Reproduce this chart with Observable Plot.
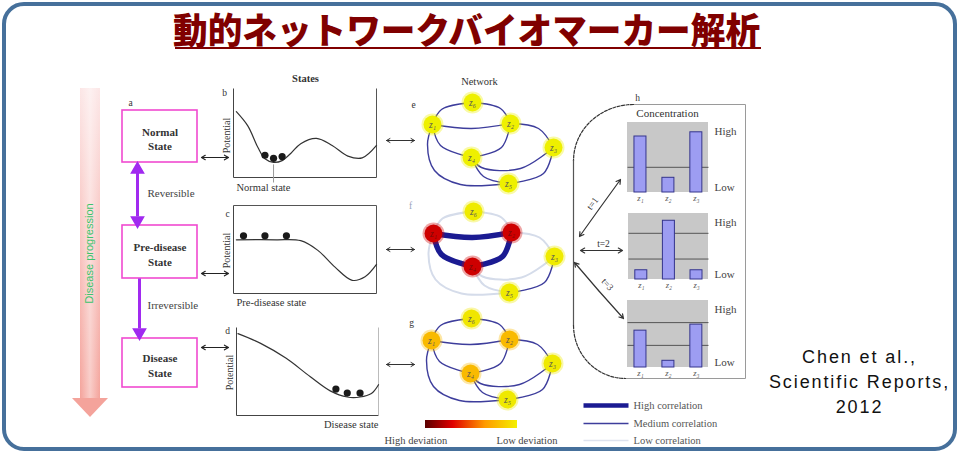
<!DOCTYPE html>
<html><head><meta charset="utf-8">
<script src="https://cdn.jsdelivr.net/npm/d3@7"></script>
<script src="https://cdn.jsdelivr.net/npm/@observablehq/plot@0.6"></script>
<style>
html,body{margin:0;padding:0;background:#fff;}
#wrap{position:relative;width:961px;height:452px;overflow:hidden;background:#fff;}
#box{position:absolute;left:2px;top:2px;width:947px;height:441px;border:4px solid #46709b;border-radius:22px;pointer-events:none;}
#title{position:absolute;left:173px;top:10px;font-family:"Noto Sans CJK JP";font-weight:900;font-size:36px;line-height:36px;color:#800000;white-space:nowrap;transform:scaleX(0.962);transform-origin:0 0;}
#uline{position:absolute;left:175px;top:47px;width:586px;height:2px;background:#800000;}
#chart{position:absolute;left:0;top:66px;}
</style></head>
<body><div id="wrap"><div id="title"></div><div id="uline"></div><div id="chart"></div><div id="box"></div></div>
<script>
// ================= DATA =================
const title = "動的ネットワークバイオマーカー解析";
const citation = ["Chen et al.,", "Scientific Reports,", "2012"];
const progressionLabel = "Disease progression";
const stateBoxLabels = ["Normal\nState", "Pre-disease\nState", "Disease\nState"];
const transitionLabels = ["Reversible", "Irreversible"];
const landscapeLabels = ["Normal state", "Pre-disease state", "Disease state"];
const columnTitles = ["States", "Network", "Concentration"];
const panelLetters = ["a", "b", "c", "d", "e", "f", "g", "h"];
const potentialLabel = "Potential";

// potential landscapes: [state coordinate 0..1, potential 0..1]
const potentialNormal = [[0.02,0.74],[0.10,0.58],[0.17,0.34],[0.22,0.21],[0.28,0.17],[0.34,0.19],[0.40,0.27],[0.47,0.38],[0.58,0.44],[0.69,0.36],[0.80,0.24],[0.90,0.22],[1.00,0.36]];
const potentialPre = [[0.02,0.61],[0.30,0.61],[0.47,0.60],[0.59,0.49],[0.71,0.30],[0.83,0.15],[0.92,0.19],[1.00,0.33]];
const potentialDisease = [[0.01,0.93],[0.17,0.82],[0.35,0.65],[0.52,0.44],[0.66,0.28],[0.78,0.21],[0.87,0.21],[0.95,0.25],[1.00,0.35]];
const ballsNormal = [[0.22,0.25],[0.28,0.215],[0.34,0.235]];
const ballsPre = [[0.07,0.655],[0.22,0.655],[0.37,0.655]];
const ballsDisease = [[0.70,0.30],[0.78,0.255],[0.87,0.255]];

// network
const nodeIds = ["z6", "z1", "z2", "z3", "z4", "z5"];
const nodeLabels = ["z\u2086", "z\u2081", "z\u2082", "z\u2083", "z\u2084", "z\u2085"];
const edgeList = [["z1","z6"],["z6","z2"],["z1","z2"],["z1","z4"],["z4","z2"],["z2","z3"],["z3","z5"],["z4","z3"],["z4","z5"],["z1","z5"]];
// deviation per node (0 low .. 1 high), same order as nodeIds
const deviationNormal = [0, 0, 0, 0, 0, 0];
const deviationPre = [0.02, 0.74, 0.74, 0.02, 0.74, 0.02];
const deviationDisease = [0.04, 0.22, 0.22, 0.03, 0.22, 0.03];
// correlation level per edge (0 low, 1 medium, 2 high), same order as edgeList
const correlationNormal = [1,1,1,1,1,1,1,1,1,1];
const correlationPre = [0,0,2,2,2,0,1,0,0,0];
const correlationDisease = [1,1,1,1,1,1,1,1,1,1];
const correlationLabels = ["Low correlation", "Medium correlation", "High correlation"];
const deviationLabels = ["High deviation", "Low deviation"];

// concentration panel
const timeLabels = ["t=1", "t=2", "t=3"];
const barLabels = ["z\u2081", "z\u2082", "z\u2083"];
const concT1 = [0.80, 0.21, 0.86];
const concT2 = [0.14, 0.89, 0.14];
const concT3 = [0.55, 0.10, 0.64];
const gridT1 = [0.36];
const gridT2 = [0.70, 0.31];
const gridT3 = [0.67, 0.33];
const levelLabels = ["High", "Low"];

// ================= LAYOUT =================
const L = {
  arrow: {x0: 80, x1: 100, y0: 88, y1: 398, hx0: 72, hx1: 108, tip: 417, tx: 89, ty: 253},
  boxes: [{x0:122,x1:197,y0:110,y1:162},{x0:122,x1:197,y0:225,y1:278},{x0:122,x1:197,y0:338,y1:387}],
  pot: [{x0:233,x1:376,y0:88,y1:177,top:false,right:true},{x0:233,x1:376,y0:205,y1:293,top:true,right:true},{x0:236,x1:378,y0:327,y1:415,top:false,right:false}],
  net: [{ox:432,oy:124},{ox:433,oy:233},{ox:431,oy:340}],
  nodeRel: {z6:[40,-22], z1:[0,0], z2:[78,-1], z3:[121,23], z4:[39,33], z5:[76,59]},
  edgeVia: [[[9,-15]],[[68,-16]],[[39,4]],[[8,21]],[[69,23]],[[106,4]],[[111,49]],[[49,43],[88,44]],[[51,52]],[[-5,20],[2,46],[28,60]]],
  bars: [{x0:627,x1:708,y0:122,y1:192},{x0:628,x1:708,y0:213,y1:279},{x0:627,x1:708,y0:300,y1:367}],
  barPos: [0.16, 0.505, 0.85], barW: 12,
};

const W = 961, H = 386, Y0 = 66;
const devColor = d3.scaleLinear().domain([0, 0.35, 0.7, 1]).range(["#eef000", "#ff9a00", "#e00000", "#5a0000"]).clamp(true);

// ---------- derived geometry ----------
const potCurves = [potentialNormal, potentialPre, potentialDisease];
const potBalls = [ballsNormal, ballsPre, ballsDisease];
const mapPot = (p, [u, v]) => ({x: p.x0 + u * (p.x1 - p.x0), y: p.y1 - v * (p.y1 - p.y0)});
const curvePts = potCurves.flatMap((c, i) => c.map(d => ({...mapPot(L.pot[i], d), k: i})));
const ballPts = potBalls.flatMap((c, i) => c.map(d => mapPot(L.pot[i], d)));
const frameSegs = [];
L.pot.forEach(p => {
  frameSegs.push({x1:p.x0,y1:p.y0,x2:p.x0,y2:p.y1,c:"#444"});
  frameSegs.push({x1:p.x0,y1:p.y1,x2:p.x1,y2:p.y1,c:"#444"});
  frameSegs.push({x1:p.x1,y1:p.y0,x2:p.x1,y2:p.y1,c:p.right ? "#555" : "#bbb"});
  if (p.top) frameSegs.push({x1:p.x0,y1:p.y0,x2:p.x1,y2:p.y0,c:"#555"});
});
const minNormal = mapPot(L.pot[0], potentialNormal[4]);

const deviations = [deviationNormal, deviationPre, deviationDisease];
const correlations = [correlationNormal, correlationPre, correlationDisease];
const edgePts = [];
correlations.forEach((corr, s) => {
  const n = L.net[s];
  edgeList.forEach(([a, b], k) => {
    const pts = [L.nodeRel[a], ...L.edgeVia[k], L.nodeRel[b]];
    pts.forEach(([dx, dy]) => edgePts.push({key: s + "-" + k, level: corr[k], x: n.ox + dx, y: n.oy + dy}));
  });
});
const nodePts = [];
deviations.forEach((dev, s) => {
  const n = L.net[s];
  nodeIds.forEach((id, i) => {
    const [dx, dy] = L.nodeRel[id];
    nodePts.push({x: n.ox + dx, y: n.oy + dy, dev: dev[i], fill: devColor(dev[i]), label: nodeLabels[i]});
  });
});

const barRects = [], bgRects = [], gridSegs = [], barText = [], levelText = [];
[concT1, concT2, concT3].forEach((vals, c) => {
  const b = L.bars[c];
  bgRects.push(b);
  [gridT1, gridT2, gridT3][c].forEach(g => {
    const y = b.y1 - g * (b.y1 - b.y0);
    gridSegs.push({x1: b.x0, x2: b.x1, y1: y, y2: y});
  });
  vals.forEach((v, i) => {
    const cx = b.x0 + L.barPos[i] * (b.x1 - b.x0);
    barRects.push({x1: cx - L.barW / 2, x2: cx + L.barW / 2, y1: b.y1, y2: b.y1 - v * (b.y1 - b.y0)});
    barText.push({x: cx, y: b.y1 + 6, text: barLabels[i]});
  });
  levelText.push({x: 714, y: b.y0 + 9, text: levelLabels[0]});
  levelText.push({x: 714, y: b.y1 - 5, text: levelLabels[1]});
});

// panel h bracket
const arc = (cx, cy, rx, ry, a0, a1) => d3.range(0, 1.0001, 1 / 16).map(t => {
  const a = a0 + (a1 - a0) * t; return {x: cx + rx * Math.cos(a), y: cy + ry * Math.sin(a)};
});
const bracketTop = arc(633, 160, 60, 56, -Math.PI / 2, -Math.PI);
const bracketBot = arc(625, 325, 52, 53, Math.PI, Math.PI / 2);

const serif = "Liberation Serif, DejaVu Serif, serif";
const T = (data, o = {}) => Plot.text(data, {x: "x", y: "y", text: "text", fontFamily: serif, fontSize: 10, fill: "#333", ...o});

const plot = Plot.plot({
  width: W, height: H, margin: 0,
  x: {domain: [0, W], range: [0, W], axis: null},
  y: {domain: [Y0, Y0 + H], range: [0, H], axis: null},
  color: {type: "identity"},
  style: {background: "transparent", fontFamily: serif},
  marks: [
    // disease progression arrow
    Plot.rect([L.arrow], {x1: "x0", x2: "x1", y1: "y0", y2: "y1", fill: "url(#gShaft)"}),
    Plot.rect([L.arrow], {x1: "x0", x2: "x1", y1: "y0", y2: "y1", fill: "url(#gShine)"}),
    Plot.areaY([{x: L.arrow.hx0, a: L.arrow.y1, b: L.arrow.y1}, {x: (L.arrow.x0 + L.arrow.x1) / 2, a: L.arrow.y1, b: L.arrow.tip}, {x: L.arrow.hx1, a: L.arrow.y1, b: L.arrow.y1}],
      {x: "x", y1: "a", y2: "b", fill: "#f4a39b"}),
    Plot.text([progressionLabel], {x: L.arrow.tx, y: L.arrow.ty, text: d => d, rotate: -90, fill: "#3cc46c", fontSize: 11, fontFamily: "Liberation Sans, Arial, sans-serif"}),

    // state boxes
    Plot.rect(L.boxes, {x1: "x0", x2: "x1", y1: "y0", y2: "y1", stroke: "#f04ad0", strokeWidth: 1.6, fill: "white"}),
    Plot.text(L.boxes.map((b, i) => ({x: (b.x0 + b.x1) / 2, y: (b.y0 + b.y1) / 2 + 2, text: stateBoxLabels[i]})),
      {x: "x", y: "y", text: "text", fontFamily: serif, fontSize: 11, fill: "#333", lineHeight: 1.3, fontWeight: "bold"}),
    // transitions
    Plot.link([{x: 137, a: 172, b: 216}, {x: 139, a: 278, b: 328}], {x1: "x", x2: "x", y1: "a", y2: "b", stroke: "#a12af0", strokeWidth: 3}),
    Plot.dot([{x: 137, y: 169, r: 0}, {x: 137, y: 220, r: 180}, {x: 139, y: 332, r: 180}], {x: "x", y: "y", rotate: "r", symbol: "triangle", r: 4.5, fill: "#a12af0", stroke: "#a12af0"}),
    T([{x: 147, y: 193, text: transitionLabels[0]}, {x: 147, y: 305, text: transitionLabels[1]}], {textAnchor: "start", fontSize: 11, fill: "#444"}),

    // arrows state -> landscape
    Plot.arrow([157, 273, 347].flatMap(y => [{x1: 214, x2: 201, y}, {x1: 214, x2: 228, y}]), {x1: "x1", x2: "x2", y: "y", stroke: "#222", strokeWidth: 1.2, headLength: 6}),

    // potential landscapes
    Plot.link(frameSegs, {x1: "x1", y1: "y1", x2: "x2", y2: "y2", stroke: "c", strokeWidth: 1}),
    Plot.link([{x: minNormal.x, a: minNormal.y + 2, b: 182}], {x1: "x", x2: "x", y1: "a", y2: "b", stroke: "#999"}),
    Plot.line(curvePts, {x: "x", y: "y", z: "k", curve: "catmull-rom", stroke: "#333", strokeWidth: 1.2}),
    Plot.dot(ballPts, {x: "x", y: "y", r: 3.6, fill: "#1a1a1a"}),
    T(L.pot.map((p, i) => ({x: p.x0 - 7, y: [135, 250, 372][i], text: potentialLabel})), {rotate: -90, fontSize: 10}),
    T([{x: 236, y: 187, text: landscapeLabels[0]}, {x: 236, y: 302, text: landscapeLabels[1]}], {textAnchor: "start", fontSize: 10.5}),
    T([{x: 378, y: 424, text: landscapeLabels[2]}], {textAnchor: "end", fontSize: 10.5}),
    T([{x: 130, y: 102, text: panelLetters[0]}, {x: 224, y: 92, text: panelLetters[1]}, {x: 227, y: 213, text: panelLetters[2]},
       {x: 227, y: 330, text: panelLetters[3]}, {x: 413, y: 104, text: panelLetters[4]}, {x: 411, y: 322, text: panelLetters[6]}, {x: 637, y: 97, text: panelLetters[7]}], {fontSize: 9.5}),
    T([{x: 410, y: 205, text: panelLetters[5]}], {fontSize: 9.5, fill: "#9aa3bb"}),
    T([{x: 305, y: 78, text: columnTitles[0]}], {fontSize: 10.5, fontWeight: "bold"}),
    T([{x: 479, y: 81, text: columnTitles[1]}], {fontSize: 10.5}),

    // arrows landscape -> network
    Plot.arrow([140, 249, 364].flatMap(y => [{x1: 400, x2: 386, y}, {x1: 400, x2: 414, y}]), {x1: "x1", x2: "x2", y: "y", stroke: "#333", strokeWidth: 1, headLength: 6}),

    // networks
    Plot.line(edgePts.filter(d => d.level === 0), {x: "x", y: "y", z: "key", curve: "catmull-rom", stroke: "#d5dcea", strokeWidth: 2}),
    Plot.line(edgePts.filter(d => d.level === 1), {x: "x", y: "y", z: "key", curve: "catmull-rom", stroke: "#3d3d9c", strokeWidth: 1.4}),
    Plot.line(edgePts.filter(d => d.level === 2), {x: "x", y: "y", z: "key", curve: "catmull-rom", stroke: "#1b1b92", strokeWidth: 5.5}),
    Plot.dot(nodePts, {x: "x", y: "y", r: 11, fill: "fill", fillOpacity: 0.35}),
    Plot.dot(nodePts, {x: "x", y: "y", r: 9, fill: "fill"}),
    T(nodePts, {text: "label", fontSize: 9.5, fontStyle: "italic", fill: d => d.dev > 0.5 ? "#7a0808" : "#555"}),

    // deviation colour bar
    Plot.rect([{x1: 425, x2: 517, y1: 420, y2: 428}], {x1: "x1", x2: "x2", y1: "y1", y2: "y2", fill: "url(#gDev)"}),
    T([{x: 384, y: 440, text: deviationLabels[0]}, {x: 496, y: 440, text: deviationLabels[1]}], {textAnchor: "start", fontSize: 10.5, fill: "#444"}),

    // panel h frame
    Plot.line([{x: 633, y: 104}, {x: 745, y: 104}, {x: 745, y: 378}, {x: 625, y: 378}], {x: "x", y: "y", stroke: "#9a9a9a", strokeWidth: 1}),
    Plot.line(bracketTop, {x: "x", y: "y", stroke: "#333", strokeWidth: 1.2, strokeDasharray: "3,1.5"}),
    Plot.line([{x: 573, y: 160}, {x: 573, y: 325}], {x: "x", y: "y", stroke: "#555", strokeWidth: 1.2}),
    Plot.line(bracketBot, {x: "x", y: "y", stroke: "#333", strokeWidth: 1.2, strokeDasharray: "3,1.5"}),
    T([{x: 667, y: 113, text: columnTitles[2]}], {fontSize: 11}),

    // concentration bar charts
    Plot.rect(bgRects, {x1: "x0", x2: "x1", y1: "y0", y2: "y1", fill: "#c8c8c8"}),
    Plot.link(gridSegs, {x1: "x1", x2: "x2", y1: "y1", y2: "y2", stroke: "#555", strokeWidth: 1}),
    Plot.rect(barRects, {x1: "x1", x2: "x2", y1: "y1", y2: "y2", fill: "#9d9df2", stroke: "#34348c", strokeWidth: 1}),
    T(barText, {fontSize: 8.5, fontStyle: "italic", fill: "#555"}),
    T(levelText, {textAnchor: "start", fontSize: 11, fill: "#444"}),

    // time arrows
    Plot.arrow([
      {x1: 599, y1: 208, x2: 579, y2: 236}, {x1: 599, y1: 208, x2: 620, y2: 179},
      {x1: 601, y1: 250, x2: 580, y2: 250}, {x1: 601, y1: 250, x2: 622, y2: 250},
      {x1: 598, y1: 290, x2: 574, y2: 262}, {x1: 598, y1: 290, x2: 623, y2: 318}],
      {x1: "x1", y1: "y1", x2: "x2", y2: "y2", stroke: "#333", strokeWidth: 1.2, headLength: 6}),
    T([{x: 592, y: 203, text: timeLabels[0], r: -54}, {x: 603, y: 243, text: timeLabels[1], r: 0}, {x: 607, y: 284, text: timeLabels[2], r: 48}],
      {rotate: "r", fontSize: 9.5}),

    // correlation legend
    Plot.link([{y: 405, w: 4.5, c: "#1b1b92"}, {y: 423, w: 1.6, c: "#3d3d9c"}, {y: 440, w: 1.6, c: "#dde2ee"}],
      {x1: 583, x2: 628, y1: "y", y2: "y", stroke: "c", strokeWidth: "w"}),
    T([2, 1, 0].map((lv, i) => ({x: 633, y: [405, 423, 440][i], text: correlationLabels[lv]})), {textAnchor: "start", fontSize: 10.5, fill: "#555"}),

    // citation
    Plot.text(citation.map((t, i) => ({x: 859, y: 357 + 25 * i, text: t})),
      {x: "x", y: "y", text: "text", fontFamily: "Liberation Sans, Arial, sans-serif", fontSize: 18, fill: "#111"}),
  ]
});

const svg = d3.select(plot);
const defs = svg.insert("defs", ":first-child");
const lg = (id, stops, horiz) => {
  const g = defs.append("linearGradient").attr("id", id).attr("x1", 0).attr("y1", 0).attr("x2", horiz ? 1 : 0).attr("y2", horiz ? 0 : 1);
  stops.forEach(([o, c, a]) => g.append("stop").attr("offset", o).attr("stop-color", c).attr("stop-opacity", a ?? 1));
};
lg("gShaft", [[0, "#fce6e6"], [0.5, "#f8c4c0"], [1, "#f4a39b"]], false);
lg("gShine", [[0, "#ffffff", 0], [0.5, "#ffffff", 0.45], [1, "#ffffff", 0]], true);
lg("gDev", [[0, "#5a0000"], [0.3, "#e00000"], [0.65, "#ff9a00"], [1, "#f4f000"]], true);
svg.selectAll("text").filter(function() { return citation.includes(this.textContent); })
  .attr("letter-spacing", "1.9px").style("letter-spacing", "1.9px");

document.getElementById("chart").appendChild(plot);
document.getElementById("title").textContent = title;
</script></body></html>
